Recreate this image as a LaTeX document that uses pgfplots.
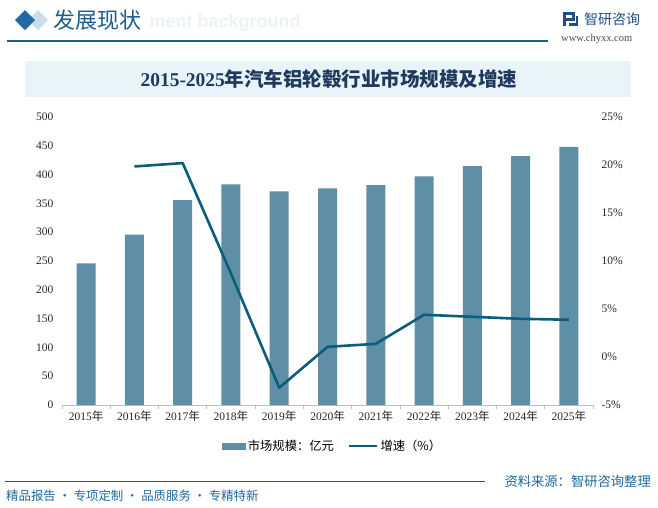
\documentclass[border=0pt]{standalone}
\usepackage{pgfplots}
\pgfplotsset{compat=1.18}
\usepackage{fontspec}
\setmainfont{Liberation Serif}
\newfontfamily\cjk{Noto Sans CJK SC}
\newfontfamily\sans{Liberation Sans}
\definecolor{barc}{HTML}{5E8FA6}
\definecolor{linec}{HTML}{0C5C7B}
\definecolor{hdr}{HTML}{1F5D8A}
\definecolor{rule}{HTML}{1F5F7E}
\definecolor{ttl}{HTML}{1E3A5C}
\definecolor{tbox}{HTML}{E9F3FA}
\definecolor{foot}{HTML}{1F6A9A}
\definecolor{dlight}{HTML}{C9DDEB}
\definecolor{ddark}{HTML}{1F6AA5}
\definecolor{logoc}{HTML}{1F4E8C}
\definecolor{wm}{HTML}{EDF2F7}
\newcommand{\yr}[1]{#1{\cjk 年}}
\begin{document}
\begin{tikzpicture}[x=1pt,y=1pt]
\fill[white] (0,0) rectangle (658,-507);
% header
\node[anchor=west,text=wm,font=\sans\bfseries\fontsize{18}{18}\selectfont] at (146,-23) {ment background};
\fill[dlight] (38,-10) -- (48,-20) -- (38,-30) -- (28,-20) -- cycle;
\fill[ddark] (25,-10) -- (35,-20) -- (25,-30) -- (15,-20) -- cycle;
\node[anchor=west,text=hdr,font=\cjk\fontsize{22}{22}\selectfont,inner sep=0] at (53,-20) {发展现状};
\draw[rule,line width=1.2pt] (7,-41) -- (548,-41);
% logo
\fill[logoc] (563,-12) rectangle (575,-15);
\fill[logoc] (572,-12) rectangle (575,-20);
\fill[logoc] (566,-18) rectangle (575,-20.5);
\fill[logoc] (563,-12) rectangle (566,-26);
\fill[logoc] (569,-23) rectangle (578,-26);
\fill[logoc] (576,-16) rectangle (578,-26);
\node[anchor=west,text=logoc,font=\cjk\fontsize{14}{14}\selectfont,inner sep=0] at (584,-19) {智研咨询};
\node[anchor=west,text=black!70,font=\rmfamily\fontsize{10.5}{10.5}\selectfont,inner sep=0] at (561,-39) {www.chyxx.com};
% title box
\fill[tbox] (25,-61) rectangle (631,-97);
\node[text=ttl,font=\fontsize{19.5}{19.5}\selectfont] at (329,-79) {{\rmfamily\bfseries 2015-2025}{\cjk\bfseries 年汽车铝轮毂行业市场规模及增速}};
% footer
\draw[rule,line width=1pt] (5,-481) -- (485,-481);
\node[anchor=east,text=foot,font=\cjk\fontsize{13.3}{13.3}\selectfont,inner sep=0] at (651,-481) {资料来源：智研咨询整理};
\node[anchor=west,text=foot,font=\cjk\fontsize{12.4}{12.4}\selectfont,inner sep=0] at (6,-496) {精品报告 · 专项定制 · 品质服务 · 专精特新};
% bars
\begin{axis}[at={(62pt,-405pt)},anchor=south west,scale only axis,
  width=531pt,height=288pt,
  xmin=-0.5,xmax=10.5,ymin=0,ymax=500,
  axis y line*=left,axis x line*=bottom,
  y axis line style={draw=none},
  x axis line style={black!25,line width=0.8pt},
  ytick={0,50,...,500},
  xtick={0,...,10},
  xticklabels={\yr{2015},\yr{2016},\yr{2017},\yr{2018},\yr{2019},\yr{2020},\yr{2021},\yr{2022},\yr{2023},\yr{2024},\yr{2025}},
  minor xtick={-0.5,0.5,...,10.5},
  major tick length=0pt,
  minor tick length=4pt,
  tick align=outside,
  minor tick style={black!25,line width=0.8pt},
  /pgf/number format/assume math mode=true,
  tick label style={font=\rmfamily\fontsize{11.5}{11.5}\selectfont,text=black!85},
  yticklabel style={xshift=-5pt},
  xticklabel style={yshift=-2pt},
  ybar,bar width=19pt,
]
\addplot[fill=barc,draw=none] coordinates {
(0,246) (1,296) (2,355.6) (3,383) (4,371) (5,376) (6,381.7) (7,397) (8,414.7) (9,432) (10,448)};
\end{axis}
% line
\begin{axis}[at={(62pt,-405pt)},anchor=south west,scale only axis,
  width=531pt,height=288pt,
  xmin=-0.5,xmax=10.5,ymin=-5,ymax=25,
  axis y line*=right,axis x line=none,
  y axis line style={draw=none},
  ytick={-5,0,...,25},
  major tick length=0pt,
  /pgf/number format/assume math mode=true,
  yticklabel={\pgfmathprintnumber{\tick}\%},
  tick label style={font=\rmfamily\fontsize{11.5}{11.5}\selectfont,text=black!85},
  yticklabel style={xshift=5pt},
  legend style={at={(0.51,-0.142)},anchor=center,draw=none,fill=none,
    legend columns=2,font=\cjk\fontsize{12.3}{12.3}\selectfont,
    /tikz/every even column/.append style={column sep=12pt},
    cells={anchor=west}},
]
\addlegendimage{legend image code/.code={\fill[barc] (-2pt,-2.8pt) rectangle (21pt,2.8pt);}}
\addlegendentry{市场规模：亿元}
\addplot[linec,line width=2.6pt,line join=round,
  legend image code/.code={\draw[linec,line width=2.6pt] (-2pt,0pt)--(26pt,0pt);}] coordinates {
(1,19.85) (2,20.2) (3,8.7) (4,-3.2) (5,1.06) (6,1.37) (7,4.4) (8,4.19) (9,3.98) (10,3.88)};
\addlegendentry{增速（\%）}
\end{axis}
\end{tikzpicture}
\end{document}
